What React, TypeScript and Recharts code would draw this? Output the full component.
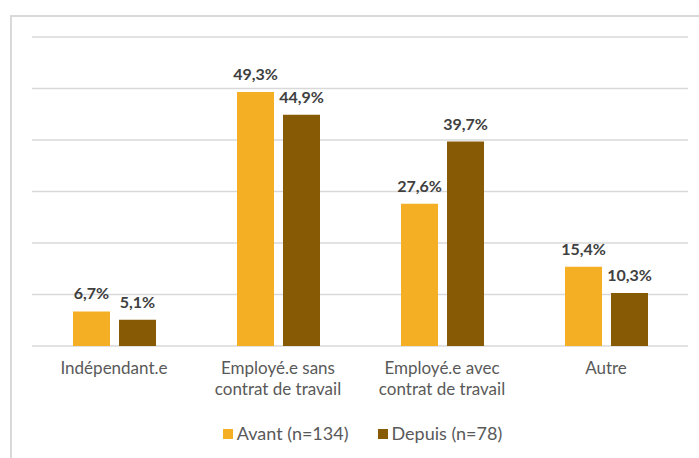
import React from "react"
import {Bar, BarChart, CartesianGrid, LabelList, Legend, XAxis, YAxis} from "recharts"

const categories = [
    "Indépendant.e",
    "Employé.e sans\ncontrat de travail",
    "Employé.e avec\ncontrat de travail",
    "Autre",
]
const avant = [6.7, 49.3, 27.6, 15.4]
const depuis = [5.1, 44.9, 39.7, 10.3]
const seriesNames = ["Avant (n=134)", "Depuis (n=78)"]
const yTicks = [0, 10, 20, 30, 40, 50, 60]

const AVANT_COLOR = "#F5AF25"
const DEPUIS_COLOR = "#875B05"
const FONT = "Lato, 'Open Sans', sans-serif"

const data = categories.map((name, i) => ({name, avant: avant[i], depuis: depuis[i]}))

const formatPct = (v: number) => v.toFixed(1).replace(".", ",") + "%"

function CategoryTick({x, y, payload}: any) {
    const lines = String(payload.value).split("\n")
    return (
        <text x={x} y={y} textAnchor="middle" fill="#595959" fontSize={17} fontFamily={FONT}>
            {lines.map((line, i) => (
                <tspan key={i} x={x} dy={i === 0 ? 28 : 21}>{line}</tspan>
            ))}
        </text>
    )
}

function LegendContent({payload}: any) {
    return (
        <div style={{display: "flex", justifyContent: "center", gap: 29, fontFamily: FONT, fontSize: 18, color: "#595959"}}>
            {(payload || []).map((entry: any) => (
                <div key={entry.value} style={{display: "flex", alignItems: "center"}}>
                    <span style={{display: "inline-block", width: 10, height: 10, background: entry.color, marginRight: 4, marginTop: 2}}/>
                    <span>{entry.value}</span>
                </div>
            ))}
        </div>
    )
}

export default function App() {
    return (
        <div style={{position: "fixed", left: 0, top: 0, width: 699, height: 458, background: "#fff", overflow: "hidden"}}>
            <div style={{position: "absolute", left: 10, top: 15, width: 720, height: 480, border: "2px solid #d9d9d9", boxSizing: "border-box"}}/>
            <div style={{position: "absolute", left: 0, top: 0}}>
                <BarChart
                    width={699}
                    height={458}
                    data={data}
                    margin={{top: 37, right: 11, left: 32, bottom: 52}}
                    barSize={37}
                    barGap={9}
                >
                    <CartesianGrid vertical={false} stroke="#d9d9d9" strokeWidth={1.5}/>
                    <XAxis
                        dataKey="name"
                        axisLine={false}
                        tickLine={false}
                        tickSize={0}
                        tickMargin={0}
                        height={60}
                        interval={0}
                        tick={<CategoryTick/>}
                    />
                    <YAxis hide domain={[0, 60]} ticks={yTicks} width={0}/>
                    <Legend
                        layout="horizontal"
                        verticalAlign="middle"
                        align="center"
                        wrapperStyle={{top: 422, left: 13, width: 699}}
                        content={<LegendContent/>}
                    />
                    <Bar dataKey="avant" name={seriesNames[0]} fill={AVANT_COLOR} isAnimationActive={false}>
                        <LabelList dataKey="avant" position="top" offset={12} formatter={formatPct}
                                   fill="#404040" fontSize={16} fontWeight={700} fontFamily={FONT}/>
                    </Bar>
                    <Bar dataKey="depuis" name={seriesNames[1]} fill={DEPUIS_COLOR} isAnimationActive={false}>
                        <LabelList dataKey="depuis" position="top" offset={12} formatter={formatPct}
                                   fill="#404040" fontSize={16} fontWeight={700} fontFamily={FONT}/>
                    </Bar>
                </BarChart>
            </div>
        </div>
    )
}
